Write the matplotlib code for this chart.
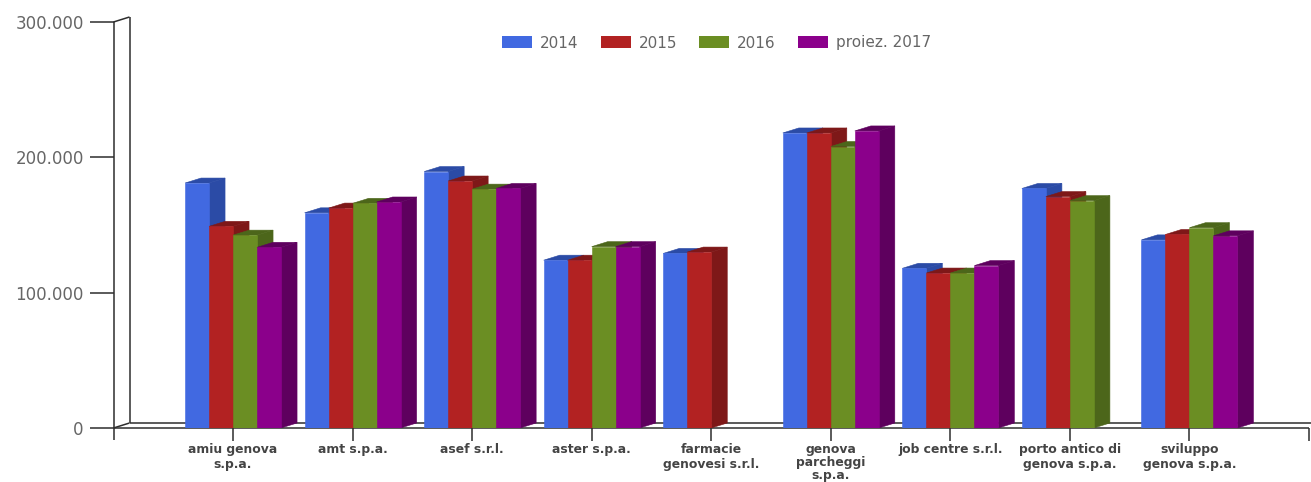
import numpy as np
import matplotlib
matplotlib.use("Agg")
import matplotlib.pyplot as plt
from matplotlib.patches import Patch, Polygon
from matplotlib.ticker import FuncFormatter

plt.rcParams["font.family"] = ["DejaVu Sans"]

categories = ["amiu genova\ns.p.a.", "amt s.p.a.", "asef s.r.l.", "aster s.p.a.",
              "farmacie\ngenovesi s.r.l.", "genova\nparcheggi\ns.p.a.", "job centre s.r.l.",
              "porto antico di\ngenova s.p.a.", "sviluppo\ngenova s.p.a."]
series_names = ["2014", "2015", "2016", "proiez. 2017"]
v2014 = [181000, 159000, 189500, 124000, 129000, 218000, 118000, 177000, 139000]
v2015 = [149000, 162500, 182500, 124000, 130000, 218000, 114500, 171000, 143000]
v2016 = [142500, 166000, 176500, 134000, None, 208000, 114500, 168000, 148000]
v2017 = [133500, 167000, 177000, 134000, None, 219500, 120000, None, 142000]
front_colors = ["#4169E1", "#B22222", "#6B8E23", "#8B008B"]
side_colors = ["#2B4BA6", "#7E1818", "#4C661A", "#5E005E"]
line_color = "#2e2e2e"

W, H = 1311, 482
fig = plt.figure(figsize=(W / 100, H / 100), dpi=100)
L, R, T, B = 113.5, 1309.0, 22.0, 428.0
ax = fig.add_axes([L / W, 1 - B / H, (R - L) / W, (B - T) / H])
ax.set_xlim(0, 10)
ax.set_ylim(0, 300000)
for s in ax.spines.values():
    s.set_visible(False)
ax.patch.set_visible(False)

dx = 16 * 10 / (R - L)          # depth in x units
dy = 5 * 300000 / (B - T)       # depth in value units
bw = 24 * 10 / (R - L)

# back wall and floor
wall = dict(color=line_color, lw=1.1, clip_on=False, solid_capstyle="butt", zorder=1)
ax.plot([0, 0], [0, 300000], **wall)
ax.plot([dx, dx], [dy, 300000 + dy], **wall)
ax.plot([0, dx], [300000, 300000 + dy], **wall)
ax.plot([0, dx], [0, dy], **wall)
ax.plot([dx, 10.02], [dy, dy], **wall)
ax.plot([0, 10], [0, 0], **wall)

# bars
series = [v2014, v2015, v2016, v2017]
z = 2
for c in range(len(categories)):
    for s, vals in enumerate(series):
        v = vals[c]
        if v is None:
            continue
        x0 = c + 1 + (s - 2) * bw
        x1 = x0 + bw
        ax.add_patch(Polygon([(x1, 0), (x1 + dx, dy), (x1 + dx, v + dy), (x1, v)],
                             fc=side_colors[s], ec=side_colors[s], lw=0.4, zorder=z))
        ax.add_patch(Polygon([(x0, v), (x0 + dx, v + dy), (x1 + dx, v + dy), (x1, v)],
                             fc=side_colors[s], ec=side_colors[s], lw=0.4, zorder=z))
        ax.bar(x0, v, width=bw, align="edge", color=front_colors[s],
               ec=front_colors[s], lw=0.4, zorder=z + 0.5)
        z += 1

# axes ticks
ax.set_yticks([0, 100000, 200000, 300000])
ax.yaxis.set_major_formatter(FuncFormatter(lambda v, _: f"{int(v):,}".replace(",", ".")))
ax.tick_params(axis="y", length=17.5, width=1.1, color=line_color, pad=4,
               labelsize=12, labelcolor="#666666")
ax.set_xticks(range(1, 11))
labels = ax.set_xticklabels(categories + [""], fontsize=8.9, fontweight="bold", color="#444444",
                            linespacing=1.22)
labels[5].set_linespacing(0.98)
ax.tick_params(axis="x", length=9, width=1.1, color=line_color, pad=2)
ax.plot([0, 0], [0, -9000], **wall)

handles = [Patch(fc=c, ec="none", label=n) for c, n in zip(front_colors, series_names)]
fig.legend(handles=handles, loc="center", bbox_to_anchor=(716.5 / W, 1 - 43 / H), ncols=4,
           frameon=False, fontsize=11, labelcolor="#666666", handlelength=1.96,
           handleheight=0.78, handletextpad=0.52, columnspacing=1.44, borderpad=0, borderaxespad=0)

fig.savefig("out.png", dpi=100)
